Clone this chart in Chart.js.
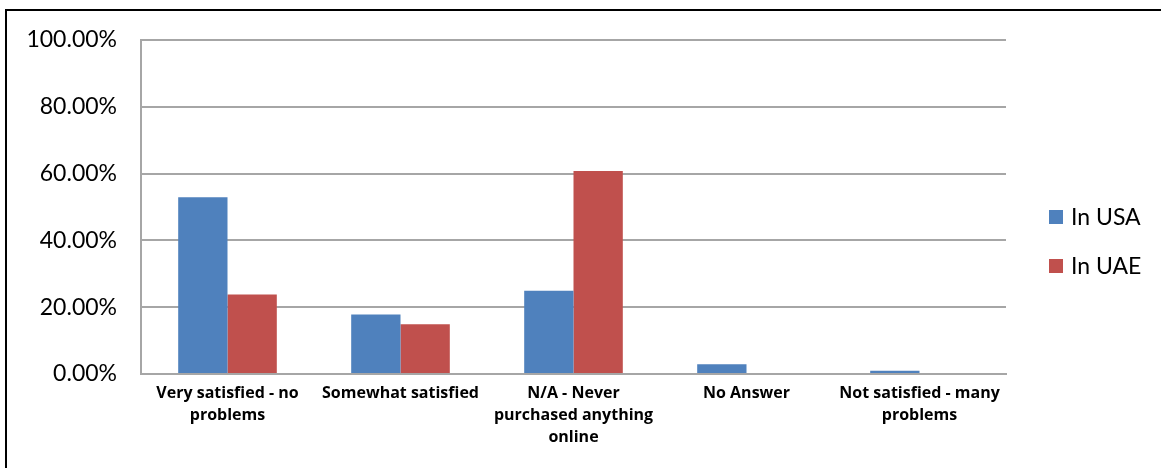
<!DOCTYPE html>
<html lang="en">
<head>
    <meta charset="UTF-8">
    <title>Online Shopping Satisfaction</title>
    <style>
body {
    margin: 0;
    padding: 0;
    background-color: #fff;
    overflow: hidden;
}

#frame {
    position: absolute;
    left: 5px;
    top: 9px;
    width: 1300px;
    height: 600px;
    border: 2px solid #000;
    pointer-events: none;
}

#chart-container {
    position: absolute;
    left: 0;
    top: 0;
    width: 1161px;
    height: 468px;
}
    </style>
</head>
<body>
    <div id="chart-container">
        <canvas id="satisfactionChart" width="1161" height="468"></canvas>
    </div>
    <div id="frame"></div>

    <script src="https://cdn.jsdelivr.net/npm/chart.js"></script>
    <script>
        // Survey answers (percent of respondents)
        const categories = [
            ['Very satisfied - no', 'problems'],
            'Somewhat satisfied',
            ['N/A - Never', 'purchased anything', 'online'],
            'No Answer',
            ['Not satisfied - many', 'problems']
        ];
        const usaValues = [52.9, 17.8, 24.9, 2.9, 1.0];
        const uaeValues = [23.8, 14.9, 60.8, 0, 0];
        const yTicks = [0, 20, 40, 60, 80, 100];

        const gridColor = '#a6a6a6';

        // Legend drawn to the right of the plot, boxes + labels
        const sideLegend = {
            id: 'sideLegend',
            afterDraw(chart) {
                const c = chart.ctx;
                const area = chart.chartArea;
                const x = area.right + 43;
                c.save();
                c.font = '23px Lato';
                c.textBaseline = 'middle';
                chart.data.datasets.forEach((ds, i) => {
                    const cy = area.top + 177 + i * 49;
                    c.fillStyle = ds.backgroundColor;
                    c.fillRect(x, cy - 7, 14, 14);
                    c.fillStyle = '#000';
                    c.fillText(ds.label, x + 22, cy + 1);
                });
                c.restore();
            }
        };

        const ctx = document.getElementById('satisfactionChart').getContext('2d');

        const chart = new Chart(ctx, {
            type: 'bar',
            data: {
                labels: categories,
                datasets: [
                    {
                        label: 'In USA',
                        data: usaValues,
                        backgroundColor: '#4F81BD',
                        categoryPercentage: 0.57,
                        barPercentage: 1.0
                    },
                    {
                        label: 'In UAE',
                        data: uaeValues,
                        backgroundColor: '#C0504D',
                        categoryPercentage: 0.57,
                        barPercentage: 1.0
                    }
                ]
            },
            options: {
                responsive: false,
                animation: false,
                layout: {
                    padding: { top: 40, right: 155, bottom: 0, left: 0 }
                },
                plugins: {
                    legend: { display: false },
                    tooltip: { enabled: false }
                },
                scales: {
                    x: {
                        grid: { display: false, drawTicks: false },
                        border: { color: gridColor, width: 2 },
                        ticks: {
                            color: '#000',
                            padding: 9,
                            maxRotation: 0,
                            autoSkip: false,
                            font: { family: 'Open Sans', size: 16, weight: 'bold', lineHeight: 1.35 }
                        },
                        afterFit: function(scale) {
                            scale.height = 94;
                        }
                    },
                    y: {
                        min: 0,
                        max: 100,
                        afterBuildTicks: function(scale) {
                            scale.ticks = yTicks.map(v => ({ value: v }));
                        },
                        grid: { color: gridColor, lineWidth: 2, drawTicks: false },
                        border: { color: gridColor, width: 2 },
                        ticks: {
                            color: '#000',
                            padding: 24,
                            font: { family: 'Lato', size: 23 },
                            callback: function(value) {
                                return value.toFixed(2) + '%';
                            }
                        },
                        afterFit: function(scale) {
                            scale.width = 141;
                        }
                    }
                }
            },
            plugins: [sideLegend]
        });
    </script>
</body>
</html>
